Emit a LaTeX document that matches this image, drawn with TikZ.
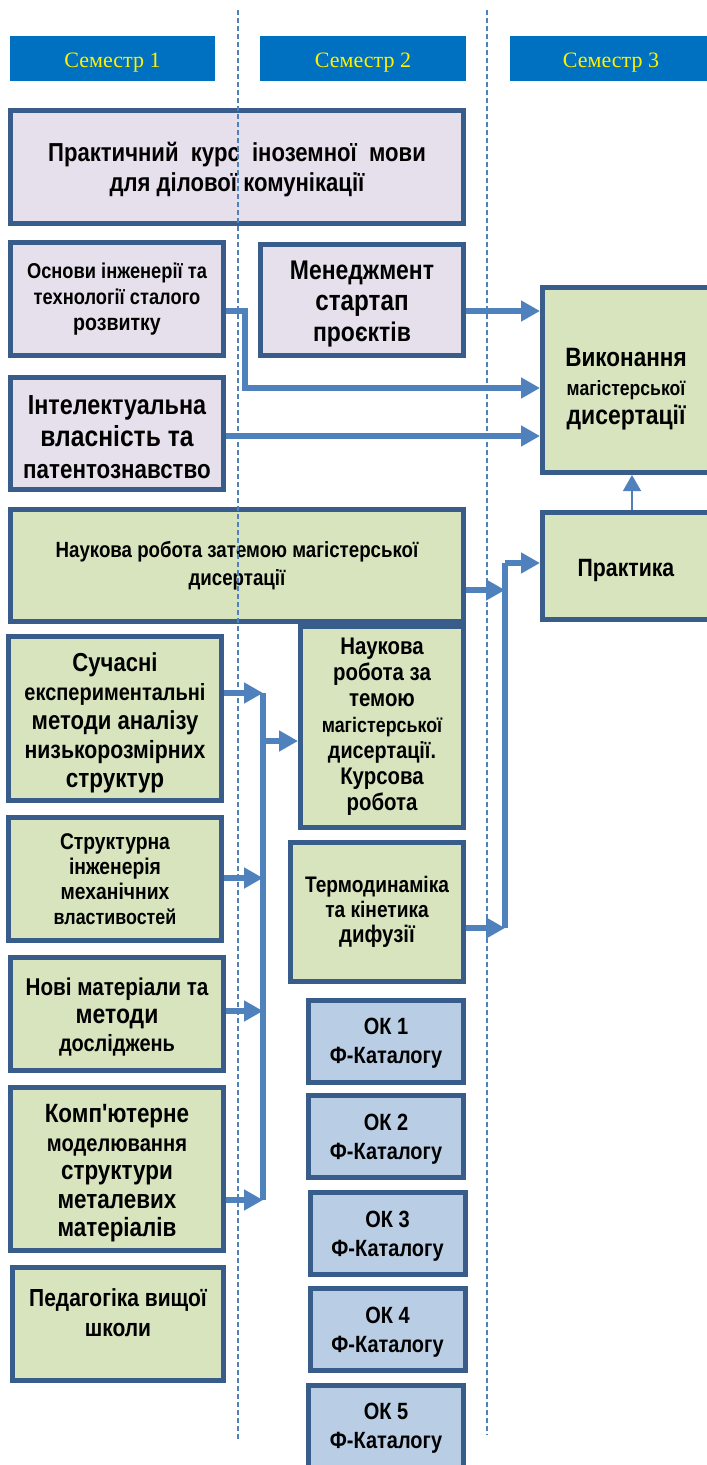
\documentclass[tikz,border=0pt]{standalone}
\usepackage{fontspec}
\usepackage{tikz}
\usetikzlibrary{arrows.meta}
\newfontfamily\narrowsans[FakeStretch=0.85]{Liberation Sans}
\newfontfamily\headserif{Liberation Serif}
\definecolor{headblue}{HTML}{0070C0}
\definecolor{boxedge}{HTML}{385D8A}
\definecolor{lilac}{HTML}{E6E0EC}
\definecolor{sage}{HTML}{D7E4BD}
\definecolor{skyblue}{HTML}{B9CDE5}
\definecolor{flowblue}{HTML}{4F81BD}
\newcommand{\fs}[2]{\fontsize{#1}{#2}\selectfont}
\newcommand{\lowerby}[1]{\rule{0pt}{#1}}
\begin{document}
\begin{tikzpicture}[x=1pt, y=-1pt,
% common options for semester headers:
head/.style = {fill=headblue, text=yellow, inner sep=0, minimum height=45pt,
            text height=22pt, text depth=5pt, font=\headserif\fs{22}{26}},
% common options for course blocks:
block/.style = {draw=boxedge, line width=5pt, align=center, inner sep=0,
            font=\narrowsans\bfseries},
lilacblock/.style = {block, fill=lilac},
sageblock/.style = {block, fill=sage},
okblock/.style = {block, fill=skyblue, minimum width=155pt, minimum height=82pt,
            font=\narrowsans\bfseries\fs{23.5}{29}},
% common options for the arrows:
flow/.style = {draw=flowblue, line width=6pt, -{Triangle[length=19pt,width=20pt]}},
bus/.style = {draw=flowblue, line width=6pt},
sep/.style = {draw=flowblue, line width=1.2pt, dash pattern=on 5pt off 3pt}]
\useasboundingbox (0,0) rectangle (707,1465);
\node[head, minimum width=205pt] (S1) at (112.5,58.5) {Семестр 1};
\node[head, minimum width=206pt] (S2) at (363,58.5) {Семестр 2};
\node[head, minimum width=202pt] (S3) at (611,58.5) {Семестр 3};
\node[lilacblock, minimum width=453pt, minimum height=113pt, font=\narrowsans\bfseries\fs{26}{30}] (kurs) at (237,167)
  {\lowerby{24pt}Практичний\ \ курс\ \ іноземної\ \ мови\\для ділової комунікації};
\node[lilacblock, minimum width=213pt, minimum height=113pt, font=\narrowsans\bfseries\fs{21.5}{26}] (osnovy) at (117,299)
  {Основи інженерії та\\технології сталого\\{\fs{23}{26}розвитку}};
\node[lilacblock, minimum width=203pt, minimum height=111pt, font=\narrowsans\bfseries\fs{27}{31}] (startap) at (362,300)
  {\lowerby{27pt}Менеджмент\\{\fs{28.5}{31}стартап}\\проєктів};
\node[lilacblock, minimum width=213pt, minimum height=112pt, font=\narrowsans\bfseries\fs{27.5}{32}] (intel) at (117,433.5)
  {\lowerby{26pt}Інтелектуальна\\{\fs{29}{32}власність та}\\{\fs{26.3}{32}патентознавство}};
\node[sageblock, minimum width=167pt, minimum height=185pt, font=\narrowsans\bfseries\fs{26.5}{29}] (vykon) at (626,380)
  {\lowerby{36pt}Виконання\\{\fs{20.7}{29}магістерської}\\{\fs{27}{29}дисертації}};
\node[sageblock, minimum width=167pt, minimum height=107pt, font=\narrowsans\bfseries\fs{25}{29}] (praktyka) at (626,566)
  {\lowerby{26pt}Практика};
\node[sageblock, minimum width=453pt, minimum height=112pt, font=\narrowsans\bfseries\fs{22}{28}] (tema1) at (237,565.5)
  {Наукова робота затемою магістерської\\дисертації};
\node[sageblock, minimum width=163pt, minimum height=201pt, font=\narrowsans\bfseries\fs{24}{26}] (tema2) at (382,727)
  {Наукова\\робота за\\темою\\{\fs{21}{26}магістерської}\\{\fs{23.3}{26}дисертації.}\\Курсова\\робота};
\node[sageblock, minimum width=213pt, minimum height=164pt, font=\narrowsans\bfseries\fs{26}{29}] (suchasni) at (115,718.5)
  {\lowerby{27pt}Сучасні\\{\fs{23.5}{29}експериментальні}\\методи аналізу\\{\fs{25}{29}низькорозмірних}\\{\fs{26.5}{29}структур}};
\node[sageblock, minimum width=213pt, minimum height=123pt, font=\narrowsans\bfseries\fs{22.7}{25}] (struktur) at (115,879)
  {Структурна\\інженерія\\механічних\\{\fs{21}{25}властивостей}};
\node[sageblock, minimum width=173pt, minimum height=139pt, font=\narrowsans\bfseries\fs{22.5}{25}] (termo) at (377,912)
  {Термодинаміка\\та кінетика\\{\fs{24}{25}дифузії}};
\node[sageblock, minimum width=213pt, minimum height=113pt, font=\narrowsans\bfseries\fs{24.3}{28}] (novi) at (117,1014)
  {\lowerby{23pt}Нові матеріали та\\{\fs{27}{28}методи}\\{\fs{23.5}{28}досліджень}};
\node[sageblock, minimum width=213pt, minimum height=163pt, font=\narrowsans\bfseries\fs{26.4}{28.5}] (komp) at (117,1169)
  {\lowerby{27pt}Комп'ютерне\\{\fs{23.7}{28.5}моделювання}\\структури\\металевих\\матеріалів};
\node[sageblock, minimum width=211pt, minimum height=113pt, font=\narrowsans\bfseries\fs{24.7}{30}] (pedag) at (118,1324)
  {Педагогіка вищої\\школи\rule[-22pt]{0pt}{0pt}};
\node[okblock] (OK1) at (386,1041) {\lowerby{21pt}ОК 1\\Ф-Каталогу};
\node[okblock] (OK2) at (386,1136.5) {\lowerby{21pt}ОК 2\\Ф-Каталогу};
\node[okblock] (OK3) at (387.5,1233.5) {\lowerby{21pt}ОК 3\\Ф-Каталогу};
\node[okblock] (OK4) at (387.5,1329.5) {\lowerby{21pt}ОК 4\\Ф-Каталогу};
\node[okblock] (OK5) at (386,1426) {\lowerby{21pt}ОК 5\\Ф-Каталогу};
% bus lines
\coordinate (busLtop) at (263,693);
\coordinate (busLbot) at (263,1200);
\coordinate (busRtop) at (505,563);
\coordinate (busRbot) at (505,928);
\coordinate (osnturn) at (245,388);
\draw[bus] (busLtop) -- (busLbot);
\draw[bus] (busRtop) -- (busRbot);
% arrows to the thesis
\draw[flow] (startap.east |- 0,311) -- (vykon.west |- 0,311);
\draw[flow] (osnovy.east |- 0,311) -| (osnturn) -- (vykon.west |- osnturn);
\draw[flow] (intel.east |- 0,436) -- (vykon.west |- 0,436);
\draw[line width=1.5pt, draw=flowblue, -{Triangle[length=16pt,width=18pt]}] (praktyka.north -| 632,0) -- (vykon.south -| 632,0);
\draw[flow] (tema1.east |- 0,590) -- (busRtop |- 0,590);
\draw[flow] (termo.east |- 0,928) -- (busRbot);
\draw[flow] (busRtop) -- (praktyka.west |- busRtop);
% arrows into the left bus
\draw[flow] (suchasni.east |- busLtop) -- (busLtop);
\draw[flow] (struktur.east |- 0,878) -- (busLtop |- 0,878);
\draw[flow] (novi.east |- 0,1011) -- (busLtop |- 0,1011);
\draw[flow] (komp.east |- busLbot) -- (busLbot);
\draw[flow] (busLtop |- 0,741) -- (tema2.west |- 0,741);
% semester separators
\draw[sep] (238,10) -- (238,1440);
\draw[sep] (487,10) -- (487,1435);
\end{tikzpicture}
\end{document}
